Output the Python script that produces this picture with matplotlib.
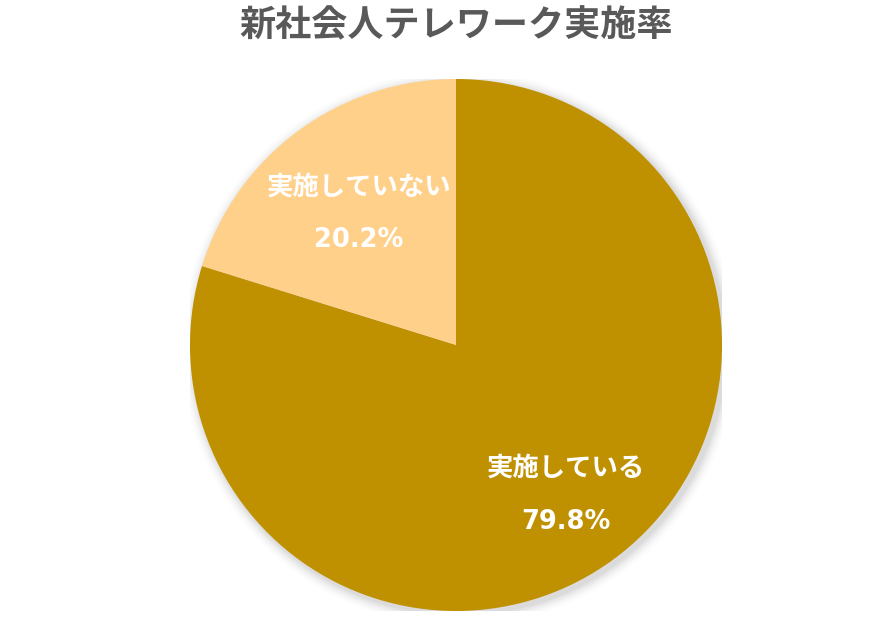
import numpy as np
import matplotlib
matplotlib.use("Agg")
import matplotlib.pyplot as plt
from matplotlib.patches import Circle

plt.rcParams['font.family'] = ['Noto Sans CJK JP', 'DejaVu Sans']

title = "新社会人テレワーク実施率"
categories = ["実施している", "実施していない"]
values = [79.8, 20.2]
colors = ["#BF9000", "#FFD08A"]

fig = plt.figure(figsize=(8.8, 6.18), dpi=100)
ax = fig.add_axes([(456 - 266) / 880, (618 - 611) / 618, 532 / 880, 532 / 618])

wedges, _ = ax.pie(values, colors=colors, startangle=90, counterclock=False,
                   radius=1.0, wedgeprops=dict(linewidth=0))
for w in wedges:
    w.set_zorder(1)

# soft shadow
for i, a in enumerate(np.linspace(0.05, 0.005, 8)):
    ax.add_patch(Circle((0.012, -0.012), 1.0 + 0.006 * (i + 1), color='black',
                        alpha=a * 0.6, lw=0, zorder=0))

ax.set_xlim(-1, 1)
ax.set_ylim(-1, 1)
ax.set_aspect('equal')
ax.axis('off')

dists = [0.70, 0.615]
for w, cat, v, d in zip(wedges, categories, values, dists):
    ang = np.deg2rad((w.theta1 + w.theta2) / 2)
    cx, cy = d * np.cos(ang), d * np.sin(ang)
    ax.text(cx, cy + 0.1, cat, ha='center', va='center', color='white',
            fontsize=19, fontweight='bold', zorder=3)
    ax.text(cx, cy - 0.1, f"{v:.1f}%", ha='center', va='center', color='white',
            fontsize=18.5, fontweight='bold', family=['DejaVu Sans'], zorder=3)

fig.text(456 / 880, 1 - 26 / 618, title, ha='center', va='center',
         fontsize=26, fontweight='bold', color='#595959')

fig.savefig("out.png", dpi=100)
